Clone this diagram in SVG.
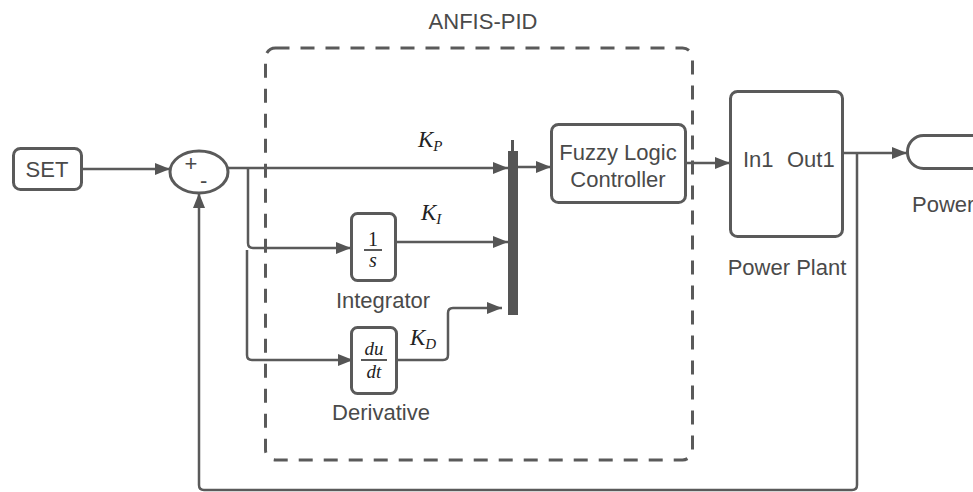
<svg xmlns="http://www.w3.org/2000/svg" width="973" height="492" viewBox="0 0 973 492">
<defs>
<marker id="arr" markerUnits="userSpaceOnUse" markerWidth="15" markerHeight="12" refX="15" refY="6" orient="auto">
<path d="M0,0 L15,6 L0,12 z" fill="#555"/>
</marker>
<style>
.box{fill:#fff;stroke:#5a5a5a;stroke-width:3}
.ln{fill:none;stroke:#5a5a5a;stroke-width:2.5}
.t{font-family:"Liberation Sans",Arial,sans-serif;fill:#4a4a4a;font-size:22px}
.m{font-family:"Liberation Serif","Times New Roman",serif;font-style:italic;fill:#222}
</style>
</defs>
<rect width="973" height="492" fill="#fff"/>
<g id="anfis-pid">
<rect x="265.5" y="48" width="427" height="412" rx="10" fill="none" stroke="#5a5a5a" stroke-width="3" stroke-dasharray="14 11"/>
<text class="t" x="483" y="29" text-anchor="middle">ANFIS-PID</text>
</g>
<g id="connectors">
<path class="ln" d="M82,169 H170" marker-end="url(#arr)"/>
<path class="ln" d="M228,168 H508" marker-end="url(#arr)"/>
<path class="ln" d="M248,168 V243 Q248,248 253,248 H351" marker-end="url(#arr)"/>
<path class="ln" d="M247,250 V355 Q247,360 252,360 H353" marker-end="url(#arr)"/>
<path class="ln" d="M395,242 H508" marker-end="url(#arr)"/>
<path class="ln" d="M397,360 H443 Q448,360 448,355 V313 Q448,308 453,308 H502" marker-end="url(#arr)"/>
<path class="ln" d="M518,167 H551" marker-end="url(#arr)"/>
<path class="ln" d="M686,163 H730" marker-end="url(#arr)"/>
<path class="ln" d="M843,153 H907" marker-end="url(#arr)"/>
<path class="ln" d="M857,153 V485 Q857,490 852,490 H204 Q199,490 199,485 V193" marker-end="url(#arr)"/>
</g>
<g id="set">
<rect class="box" x="13.5" y="148.5" width="68" height="41" rx="7"/>
<text class="t" x="47" y="177" text-anchor="middle" font-size="21">SET</text>
</g>
<g id="sum">
<ellipse class="box" cx="199" cy="172" rx="29" ry="21"/>
<text class="t" x="191" y="171" text-anchor="middle" font-size="13">+</text>
<text class="t" x="200" y="188" text-anchor="start" font-size="13">-</text>
</g>
<g id="kp-label"><text class="m" x="418" y="147" font-size="23">K<tspan font-size="15" dy="4">P</tspan></text></g>
<g id="ki-label"><text class="m" x="421" y="220" font-size="23">K<tspan font-size="15" dy="4">I</tspan></text></g>
<g id="kd-label"><text class="m" x="410" y="345" font-size="23">K<tspan font-size="15" dy="4">D</tspan></text></g>
<g id="integrator">
<rect class="box" x="351.5" y="213.5" width="44" height="67" rx="6"/>
<text x="373" y="246" text-anchor="middle" font-family="Liberation Serif,serif" font-size="20" fill="#222">1</text>
<line x1="364" y1="250" x2="382" y2="250" stroke="#222" stroke-width="1.5"/>
<text class="m" x="373" y="267" text-anchor="middle" font-size="20">s</text>
<text class="t" x="383" y="308" text-anchor="middle">Integrator</text>
</g>
<g id="derivative">
<rect class="box" x="351.5" y="327.5" width="45" height="66" rx="6"/>
<text class="m" x="374" y="355" text-anchor="middle" font-size="19">du</text>
<line x1="361" y1="360" x2="387" y2="360" stroke="#222" stroke-width="1.5"/>
<text class="m" x="374" y="378" text-anchor="middle" font-size="19">dt</text>
<text class="t" x="381" y="420" text-anchor="middle">Derivative</text>
</g>
<g id="mux">
<rect x="508" y="151" width="10" height="164" fill="#555"/>
<line x1="512.5" y1="140" x2="512.5" y2="151" stroke="#555" stroke-width="3"/>
</g>
<g id="flc">
<rect class="box" x="551.5" y="124.5" width="134" height="78" rx="7"/>
<text class="t" x="618" y="160" text-anchor="middle">Fuzzy Logic</text>
<text class="t" x="618" y="187" text-anchor="middle">Controller</text>
</g>
<g id="power-plant">
<rect class="box" x="730.5" y="91.5" width="112" height="145" rx="7"/>
<text class="t" x="743" y="167" font-size="18">In1</text>
<text class="t" x="787" y="167" font-size="18">Out1</text>
<text class="t" x="787" y="275" text-anchor="middle">Power Plant</text>
</g>
<g id="power">
<rect class="box" x="907.5" y="135.5" width="90" height="33" rx="16"/>
<text class="t" x="912" y="212">Power</text>
</g>
</svg>
